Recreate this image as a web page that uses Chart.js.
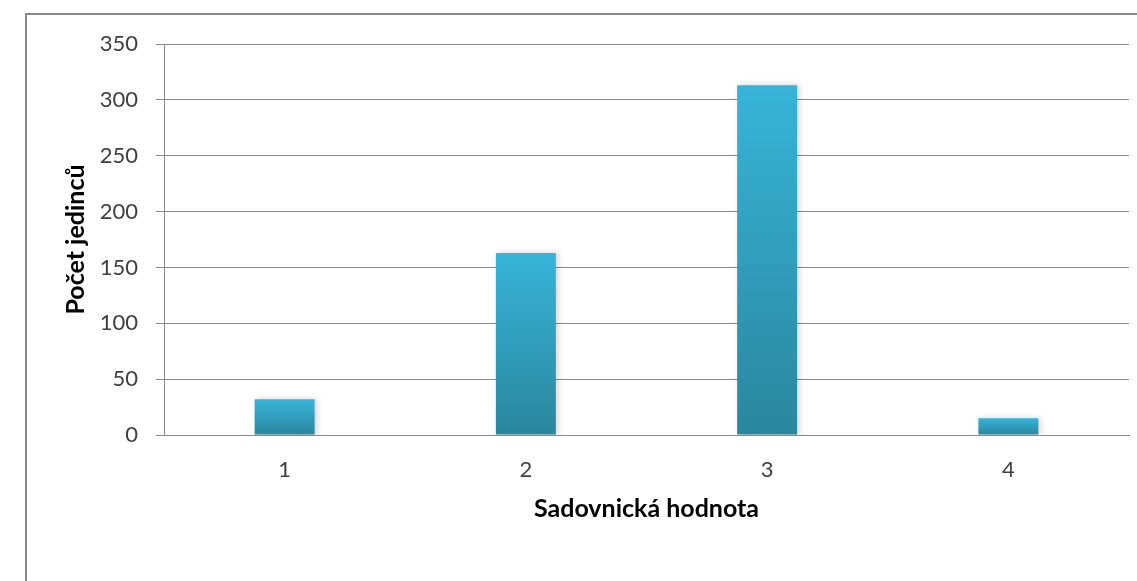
<!DOCTYPE html>
<html>
<head>
<meta charset="utf-8">
<script src="https://cdn.jsdelivr.net/npm/chart.js@4"></script>
<style>
  html, body { margin: 0; padding: 0; background: #fff; }
  #wrap { width: 1137px; height: 581px; position: relative; }
</style>
</head>
<body>
<div id="wrap"><canvas id="bar-chart" width="1137" height="581"></canvas></div>
<script>
// data
const categories = ['1', '2', '3', '4'];
const counts = [32, 163, 313, 15];
const yTicks = [0, 50, 100, 150, 200, 250, 300, 350];

// per-bar gradient, light at the top, dark at the base
function barFill(ctx) {
  const chart = ctx.chart;
  if (!chart.chartArea || ctx.dataIndex === undefined) return '#31a6c6';
  const y = chart.scales.y;
  const top = y.getPixelForValue(counts[ctx.dataIndex]);
  const base = y.getPixelForValue(0);
  if (!isFinite(top) || base - top < 1) return '#31a6c6';
  const g = chart.ctx.createLinearGradient(0, top, 0, base);
  g.addColorStop(0, '#37b4d9');
  g.addColorStop(1, '#2a879d');
  return g;
}

// outer frame of the chart object
const framePlugin = {
  id: 'frame',
  beforeDraw(chart) {
    const c = chart.ctx;
    c.save();
    c.fillStyle = '#fff';
    c.fillRect(0, 0, chart.width, chart.height);
    c.strokeStyle = '#888888';
    c.lineWidth = 2;
    c.strokeRect(26, 14, 1300, 800);
    c.restore();
  }
};

// soft shadow to the right of the bars
const shadowPlugin = {
  id: 'barShadow',
  beforeDatasetsDraw(chart) {
    const c = chart.ctx;
    c.save();
    c.shadowColor = 'rgba(0,0,0,0.18)';
    c.shadowBlur = 6;
    c.shadowOffsetX = 2;
    c.shadowOffsetY = 0;
  },
  afterDatasetsDraw(chart) {
    chart.ctx.restore();
  }
};

new Chart(document.getElementById('bar-chart').getContext('2d'), {
  type: 'bar',
  data: {
    labels: categories,
    datasets: [{
      label: 'Počet jedinců',
      data: counts,
      backgroundColor: barFill,
      borderWidth: 0,
      barPercentage: 0.5,
      categoryPercentage: 0.497
    }]
  },
  options: {
    responsive: false,
    animation: false,
    devicePixelRatio: 1,
    layout: { padding: { left: 61, top: 44, right: 8, bottom: 57 } },
    plugins: {
      legend: { display: false },
      tooltip: { enabled: false }
    },
    scales: {
      x: {
        grid: { display: false, drawTicks: false },
        border: { display: true, color: '#8a8a8a', width: 1 },
        ticks: {
          color: '#404040',
          padding: 22,
          font: { family: 'Lato', size: 22 }
        },
        title: {
          display: true,
          text: 'Sadovnická hodnota',
          color: '#000',
          padding: { top: 8, bottom: 0 },
          font: { family: 'Lato', size: 25, weight: 'bold' }
        },
        afterFit(scale) { scale.height = 89; }
      },
      y: {
        min: 0,
        max: 350,
        afterBuildTicks(scale) { scale.ticks = yTicks.map(v => ({ value: v })); },
        grid: { color: '#8a8a8a', lineWidth: 1, tickLength: 8 },
        border: { display: true, color: '#8a8a8a', width: 1 },
        ticks: {
          color: '#404040',
          padding: 18,
          font: { family: 'Lato', size: 22 }
        },
        title: {
          display: true,
          text: 'Počet jedinců',
          color: '#000',
          padding: { top: 0, bottom: 0 },
          font: { family: 'Lato', size: 25, weight: 'bold' }
        },
        afterFit(scale) { scale.width = 103; }
      }
    }
  },
  plugins: [framePlugin, shadowPlugin]
});
</script>
</body>
</html>
